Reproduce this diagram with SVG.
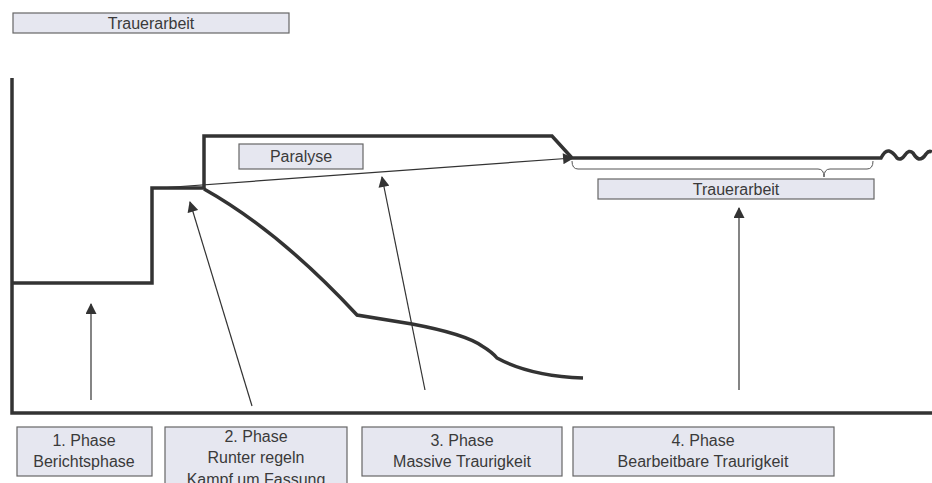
<svg xmlns="http://www.w3.org/2000/svg" width="932" height="483" viewBox="0 0 932 483">
<defs>
<style>
.box{fill:#e6e7f0;stroke:#666;stroke-width:1.2}
.t{font-family:"Liberation Sans",Arial,sans-serif;font-size:16px;fill:#3a3a3a;text-anchor:middle}
.thick{fill:none;stroke:#333;stroke-width:3.5;stroke-linejoin:miter}
.thin{fill:none;stroke:#333;stroke-width:1.2}
</style>
<marker id="ah2" viewBox="0 0 10 10" refX="9" refY="5" markerWidth="12" markerHeight="11" markerUnits="userSpaceOnUse" orient="auto"><path d="M0,0 L10,5 L0,10 Z" fill="#333"/></marker>
</defs>
<rect width="932" height="483" fill="#fff"/>
<g id="title"><rect class="box" x="13" y="13" width="276" height="20"/><text class="t" x="151" y="29">Trauerarbeit</text></g>
<g id="connectors">
<path class="thick" d="M12,78 V413 H932"/>
<path class="thick" d="M12,283 H152 V188 H204 V136 H552 L572,158 H881 Q885,150 889,151 Q893,152 897,158 Q901,161 905,155 Q909,149 913,153 Q916,158 919,159 Q923,159 926,154 Q929,150 932,152"/>
<path class="thick" d="M204,189 Q279,231 357,315 L412,324 Q465,334 482,346 Q492,352 497,358 Q530,376 583,378"/>
<path class="thin" d="M160,188 L573,158" marker-end="url(#ah2)"/>
<path class="thin" d="M91,400 V304" marker-end="url(#ah2)"/>
<path class="thin" d="M252,406 L190,202" marker-end="url(#ah2)"/>
<path class="thin" d="M425,390 L382,177" marker-end="url(#ah2)"/>
<path class="thin" d="M739,390 V208" marker-end="url(#ah2)"/>
<path fill="none" stroke="#555" stroke-width="1" d="M572,161 q0,8 6,8 H818 q6,0 6,8 q0,-8 6,-8 H867 q6,0 6,-8"/>
</g>
<g id="paralyse"><rect class="box" x="239" y="144" width="124" height="25"/><text class="t" x="301" y="162">Paralyse</text></g>
<g id="trauerarbeit2"><rect class="box" x="598" y="179" width="276" height="20"/><text class="t" x="736" y="195">Trauerarbeit</text></g>
<g id="phase1"><rect class="box" x="17" y="427" width="135" height="49"/><text class="t" x="84" y="446">1. Phase</text><text class="t" x="84" y="467">Berichtsphase</text></g>
<g id="phase2"><rect class="box" x="165" y="427" width="182" height="60"/><text class="t" x="256" y="442">2. Phase</text><text class="t" x="256" y="463">Runter regeln</text><text class="t" x="256" y="485">Kampf um Fassung</text></g>
<g id="phase3"><rect class="box" x="362" y="427" width="200" height="49"/><text class="t" x="462" y="446">3. Phase</text><text class="t" x="462" y="467">Massive Traurigkeit</text></g>
<g id="phase4"><rect class="box" x="573" y="427" width="261" height="49"/><text class="t" x="703" y="446">4. Phase</text><text class="t" x="703" y="467">Bearbeitbare Traurigkeit</text></g>
</svg>
